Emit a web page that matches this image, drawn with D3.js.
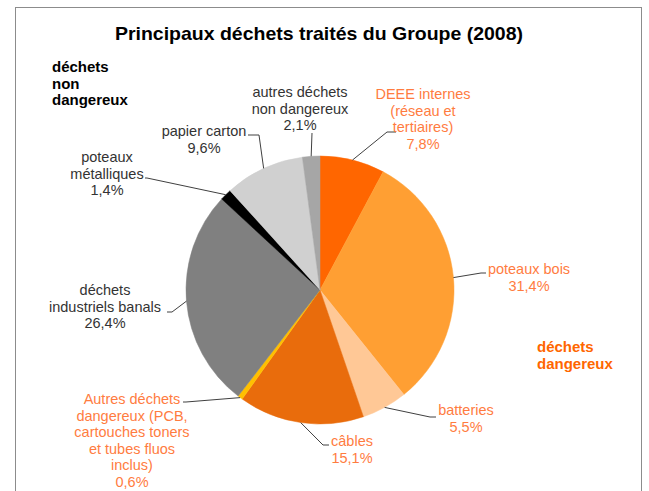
<!DOCTYPE html>
<html>
<head>
<meta charset="utf-8">
<script src="https://cdn.jsdelivr.net/npm/d3@7"></script>
<style>
  body { margin: 0; background: #fff; }
  svg text { font-family: "Liberation Sans", Arial, sans-serif; }
</style>
</head>
<body>
<div id="chart"></div>
<script>
// data, clockwise from 12 o'clock
const categories = [
    ["DEEE internes", "(réseau et", "tertiaires)"],
    ["poteaux bois"],
    ["batteries"],
    ["câbles"],
    ["Autres déchets", "dangereux (PCB,", "cartouches toners", "et tubes fluos", "inclus)"],
    ["déchets", "industriels banals"],
    ["poteaux", "métalliques"],
    ["papier carton"],
    ["autres déchets", "non dangereux"]
];
const values = [7.8, 31.4, 5.5, 15.1, 0.6, 26.4, 1.4, 9.6, 2.1];
const value_labels = ["7,8%", "31,4%", "5,5%", "15,1%", "0,6%", "26,4%", "1,4%", "9,6%", "2,1%"];
const dangerous = [true, true, true, true, true, false, false, false, false];
const group_labels = [["déchets", "non", "dangereux"], ["déchets", "dangereux"]];
const title = "Principaux déchets traités du Groupe (2008)";

const slice_colors = ["#ff6600", "#ff9f33", "#ffc896", "#e96c0c", "#ffc000",
                      "#808080", "#000000", "#d0d0d0", "#a6a6a6"];

// label layout: text centre x, first line y, leader elbow and end
const layout = [
    {x: 423, y: 99,  elbow: [387, 132], end: [396, 132]},
    {x: 529, y: 274, elbow: [481, 273], end: [486, 273]},
    {x: 466, y: 415, elbow: [430, 417], end: [436, 417]},
    {x: 352, y: 446, elbow: [323, 445], end: [329, 445]},
    {x: 132, y: 404, elbow: [186, 402], end: [183, 402]},
    {x: 105, y: 295, elbow: [172, 312], end: [167, 312]},
    {x: 107, y: 162, elbow: [147, 178], end: [145, 178]},
    {x: 204, y: 136, elbow: [259, 135], end: [248, 135]},
    {x: 300, y: 97,  elbow: [312, 133], end: [312, 133]}
];

const W = 649, H = 491;
const cx = 320, cy = 290, r = 134;
const line_h = 16.5;

let svg = d3.select("#chart").append("svg")
    .attr("width", W)
    .attr("height", H);

svg.append("rect")
    .attr("x", 15.5).attr("y", 7.5)
    .attr("width", 626).attr("height", H)
    .attr("fill", "#fff")
    .attr("stroke", "#8c8c8c");

svg.append("text")
    .attr("x", 319).attr("y", 40)
    .attr("text-anchor", "middle")
    .attr("font-size", 19)
    .attr("font-weight", "bold")
    .attr("textLength", 408)
    .attr("lengthAdjust", "spacingAndGlyphs")
    .attr("fill", "#000")
    .text(title);

let pie = d3.pie().sort(null).value(d => d);
let arcs = pie(values);
let arc = d3.arc().innerRadius(0).outerRadius(r);

let g = svg.append("g")
    .attr("transform", "translate(" + cx + ", " + cy + ")");

g.selectAll("path")
    .data(arcs)
    .enter()
    .append("path")
    .attr("d", arc)
    .attr("fill", (d, i) => slice_colors[i])
    .attr("stroke", (d, i) => slice_colors[i])
    .attr("stroke-width", 0.5);

// leader lines from the middle of each slice's rim
arcs.forEach((d, i) => {
    const a = (d.startAngle + d.endAngle) / 2;
    const start = [cx + r * Math.sin(a), cy - r * Math.cos(a)];
    const L = layout[i];
    svg.append("path")
        .attr("d", d3.line()([start, L.elbow, L.end]))
        .attr("fill", "none")
        .attr("stroke", "#404040")
        .attr("stroke-width", 1);
});

categories.forEach((lines, i) => {
    const L = layout[i];
    const t = svg.append("text")
        .attr("text-anchor", "middle")
        .attr("font-size", 14.5)
        .attr("fill", dangerous[i] ? "#ff7c3f" : "#333");
    lines.concat([value_labels[i]]).forEach((s, k) => {
        t.append("tspan")
            .attr("x", L.x)
            .attr("y", L.y + k * line_h)
            .text(s);
    });
});

const group_pos = [{x: 52, y: 72, color: "#000"}, {x: 537, y: 352, color: "#ff6600"}];
group_labels.forEach((lines, i) => {
    const t = svg.append("text")
        .attr("font-size", 15)
        .attr("font-weight", "bold")
        .attr("fill", group_pos[i].color);
    lines.forEach((s, k) => {
        t.append("tspan")
            .attr("x", group_pos[i].x)
            .attr("y", group_pos[i].y + k * 16.5)
            .text(s);
    });
});
</script>
</body>
</html>
